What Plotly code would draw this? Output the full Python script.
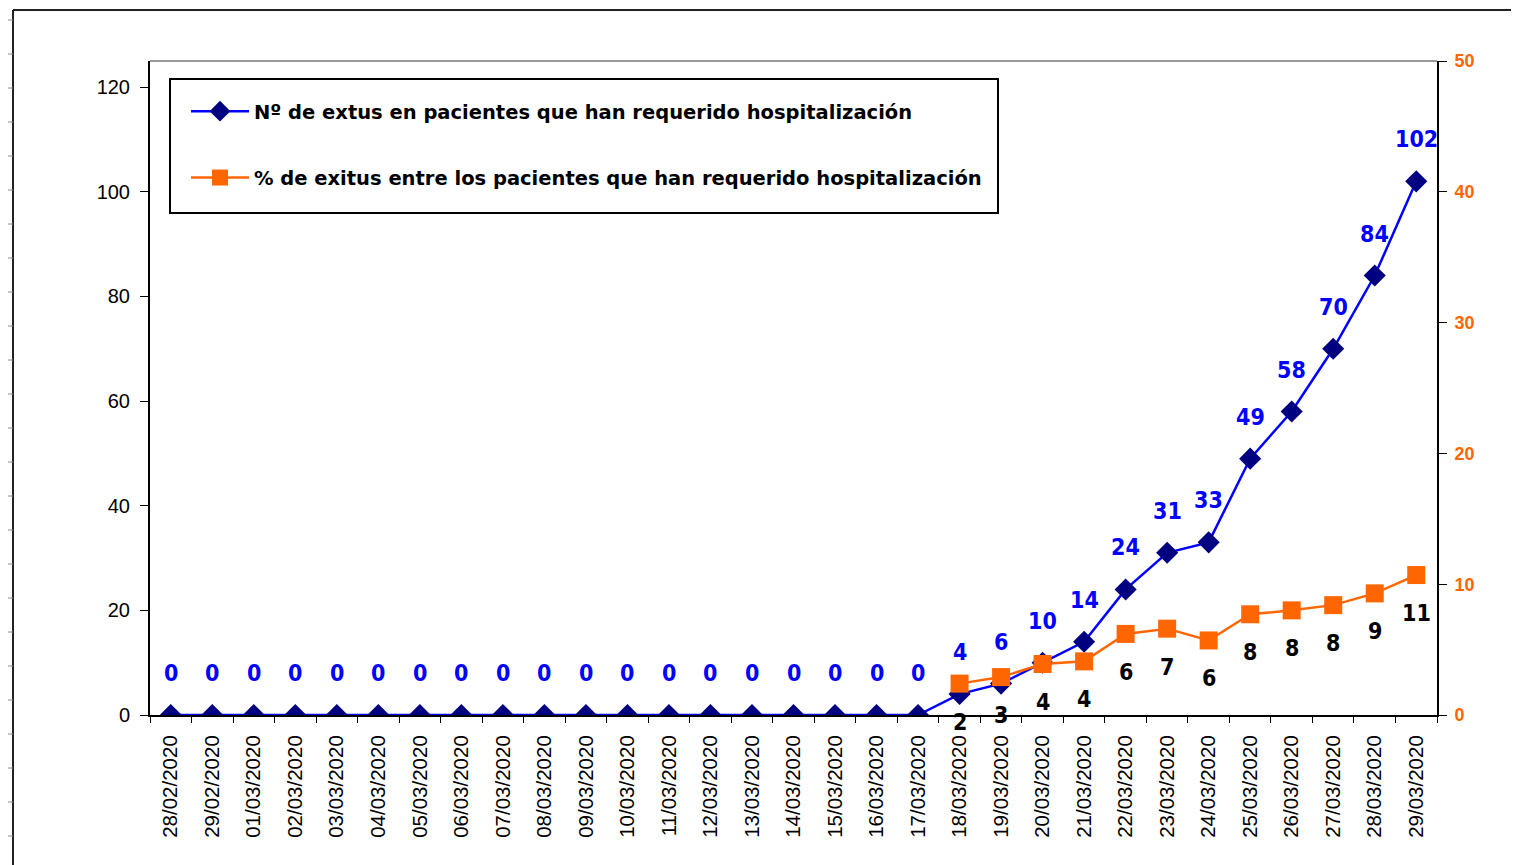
import plotly.graph_objects as go

dates = ["28/02/2020", "29/02/2020"] + [f"{d:02d}/03/2020" for d in range(1, 30)]
deaths = [0]*19 + [4, 6, 10, 14, 24, 31, 33, 49, 58, 70, 84, 102]
pct = [None]*19 + [2.4, 2.9, 3.9, 4.1, 6.2, 6.6, 5.7, 7.7, 8.0, 8.4, 9.3, 10.7]

name1 = "Nº de extus en pacientes que han requerido hospitalización"
name2 = "% de exitus entre los pacientes que han requerido hospitalización"

LBL_FONT = "Liberation Sans Narrow, DejaVu Sans Condensed, Liberation Sans, Arial"

# page offset (browser body margin)
OFF = 8
W, H = 1519 - OFF, 865 - OFF
L, R, T, B = 150 - OFF, 1437 - OFF, 61 - OFF, 715 - OFF


def px(x):
    return (x - OFF - L) / (R - L)


def py(y):
    return (B - (y - OFF)) / (B - T)


fig = go.Figure()
fig.add_trace(go.Scatter(
    x=dates, y=deaths, name=name1, mode="lines+markers", legendgroup="a",
    line=dict(color="#0000FF", width=2.5),
    marker=dict(symbol="diamond", size=17, color="#000080"),
))
fig.add_trace(go.Scatter(
    x=dates, y=pct, name=name2, mode="lines+markers", yaxis="y2", legendgroup="b",
    line=dict(color="#FF6600", width=2.5),
    marker=dict(symbol="square", size=18, color="#FF6600"),
))

ann = []
for d, v in zip(dates, deaths):
    ann.append(dict(x=d, y=v, xref="x", yref="y", text=f"<b>{v}</b>", showarrow=False,
                    yshift=42, font=dict(family=LBL_FONT, size=23, color="#0000FF")))
for d, v in zip(dates, pct):
    if v is None:
        continue
    ann.append(dict(x=d, y=v, xref="x", yref="y2", text=f"<b>{round(v)}</b>", showarrow=False,
                    yshift=-38, font=dict(family=LBL_FONT, size=23, color="#000000")))

shapes = [
    # outer chart frame (left + top)
    dict(type="line", xref="paper", yref="paper", x0=px(13), x1=px(13), y0=py(10), y1=py(870),
         line=dict(color="#222222", width=2)),
    dict(type="line", xref="paper", yref="paper", x0=px(13), x1=px(1525), y0=py(10), y1=py(10),
         line=dict(color="#222222", width=2)),
    # plot area top border
    dict(type="line", xref="paper", yref="paper", x0=0, x1=1, y0=1, y1=1,
         line=dict(color="#999999", width=2)),
    # legend box
    dict(type="rect", xref="paper", yref="paper", x0=px(170), x1=px(998), y0=py(79), y1=py(213),
         line=dict(color="black", width=2), fillcolor="rgba(0,0,0,0)"),
]
for xx in [117, 382, 648, 915, 1090, 1357]:
    shapes.append(dict(type="line", xref="paper", yref="paper", x0=px(xx), x1=px(xx),
                       y0=py(8), y1=py(0), line=dict(color="#AAAAAA", width=1)))
for yy in range(20, 865, 34):
    shapes.append(dict(type="line", xref="paper", yref="paper", x0=px(8), x1=px(13),
                       y0=py(yy), y1=py(yy), line=dict(color="#888888", width=1)))

fig.update_layout(
    width=W, height=H,
    margin=dict(l=L, r=W - R, t=T, b=H - B),
    paper_bgcolor="white", plot_bgcolor="white",
    font=dict(family="Liberation Sans, Arial", color="black"),
    showlegend=True,
    legend=dict(
        x=px(186), y=py(92), xanchor="left", yanchor="top",
        borderwidth=0, bgcolor="rgba(255,255,255,0)",
        font=dict(family="DejaVu Sans, Liberation Sans", size=19.5, color="black", weight="bold"),
        itemwidth=58, tracegroupgap=38,
    ),
    xaxis=dict(
        type="category", range=[-0.5, len(dates) - 0.5], autorange=False,
        showline=True, linecolor="black", linewidth=2,
        ticks="outside", ticklen=6, tickcolor="black", tickson="boundaries",
        tickangle=-90, tickfont=dict(family="Liberation Sans, Arial", size=20.5, color="black"),
        showgrid=False, zeroline=False, ticklabelstandoff=10,
    ),
    yaxis=dict(
        range=[0, 125], tickvals=[0, 20, 40, 60, 80, 100, 120],
        showline=True, linecolor="black", linewidth=2,
        ticks="outside", ticklen=8, tickcolor="black",
        tickfont=dict(family="Liberation Sans, Arial", size=20, color="black"),
        showgrid=False, zeroline=False, ticklabelstandoff=6,
    ),
    yaxis2=dict(
        range=[0, 50], tickvals=[0, 10, 20, 30, 40, 50], overlaying="y", side="right",
        showline=True, linecolor="black", linewidth=2,
        ticks="outside", ticklen=8, tickcolor="black",
        tickfont=dict(family="Liberation Sans, Arial", size=18, color="#FF6600", weight="bold"),
        showgrid=False, zeroline=False, ticklabelstandoff=4,
    ),
    annotations=ann,
    shapes=shapes,
)

fig.write_html("out.html")
